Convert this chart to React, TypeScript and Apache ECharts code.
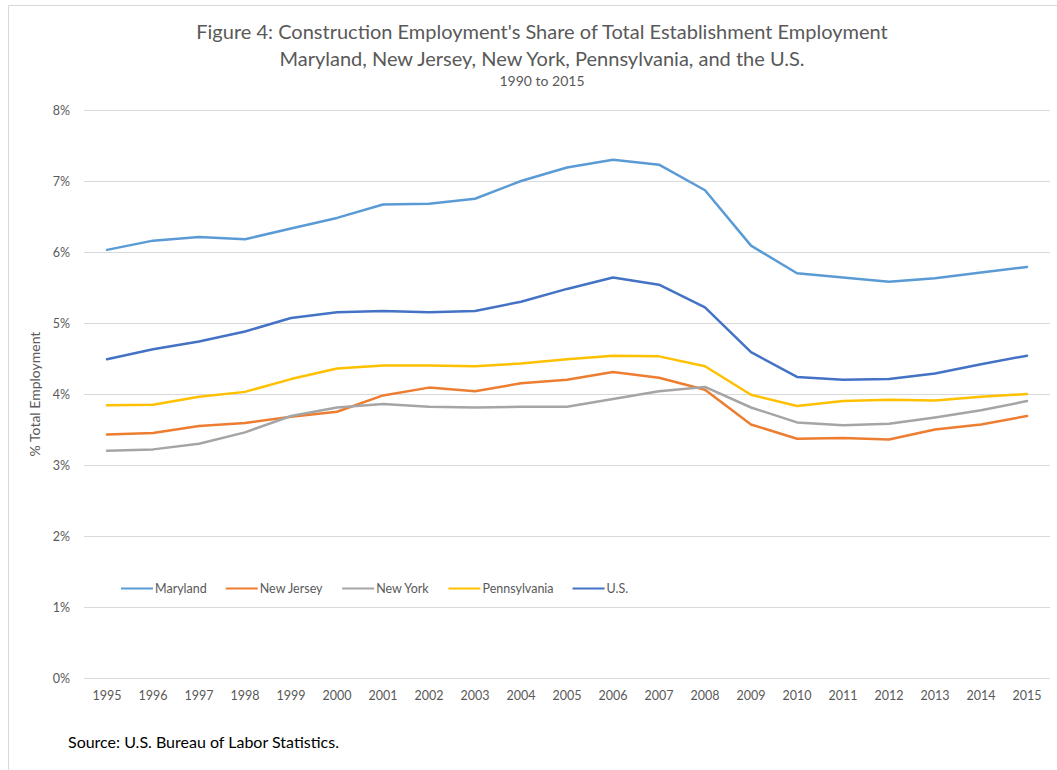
import React, { useEffect, useRef } from "react";
import * as echarts from "echarts";

const years = ["1995","1996","1997","1998","1999","2000","2001","2002","2003","2004","2005","2006","2007","2008","2009","2010","2011","2012","2013","2014","2015"];
const maryland = [6.03,6.16,6.21,6.18,6.33,6.48,6.67,6.68,6.75,7.0,7.19,7.30,7.23,6.87,6.09,5.70,5.64,5.58,5.63,5.71,5.79];
const newJersey = [3.43,3.45,3.55,3.59,3.68,3.75,3.98,4.09,4.04,4.15,4.20,4.31,4.23,4.06,3.57,3.37,3.38,3.36,3.50,3.57,3.69];
const newYork = [3.20,3.22,3.30,3.46,3.69,3.81,3.86,3.82,3.81,3.82,3.82,3.93,4.04,4.10,3.81,3.60,3.56,3.58,3.67,3.77,3.90];
const pennsylvania = [3.84,3.85,3.96,4.03,4.21,4.36,4.40,4.40,4.39,4.43,4.49,4.54,4.53,4.39,3.99,3.83,3.90,3.92,3.91,3.96,4.00];
const us = [4.49,4.63,4.74,4.88,5.07,5.15,5.17,5.15,5.17,5.30,5.48,5.64,5.54,5.22,4.59,4.24,4.20,4.21,4.29,4.42,4.54];

const seriesNames = ["Maryland", "New Jersey", "New York", "Pennsylvania", "U.S."];
const seriesData = [maryland, newJersey, newYork, pennsylvania, us];
const seriesColors = ["#5B9BD5", "#ED7D31", "#A5A5A5", "#FFC000", "#4472C4"];

const FONT = "Lato, 'Liberation Sans', sans-serif";

export default function App() {
  const ref = useRef<HTMLDivElement>(null);
  useEffect(() => {
    if (!ref.current) return;
    const chart = echarts.init(ref.current, undefined, { renderer: "svg" });
    chart.setOption({
      animation: false,
      backgroundColor: "#ffffff",
      textStyle: { fontFamily: FONT },
      title: [
        {
          text: "Figure 4: Construction Employment's Share of Total Establishment Employment\nMaryland, New Jersey, New York, Pennsylvania, and the U.S.",
          left: 537,
          top: 12,
          textAlign: "center",
          textStyle: { fontFamily: FONT, fontSize: 20, fontWeight: "normal", color: "#595959", lineHeight: 27 },
        },
        {
          text: "1990 to 2015",
          left: 537,
          top: 68,
          textAlign: "center",
          textStyle: { fontFamily: FONT, fontSize: 14, fontWeight: "normal", color: "#595959" },
        },
        {
          text: "Source: U.S. Bureau of Labor Statistics.",
          left: 63,
          top: 728,
          textStyle: { fontFamily: FONT, fontSize: 16, fontWeight: "normal", color: "#000000" },
        },
      ],
      graphic: [
        {
          type: "rect",
          shape: { x: 8.5, y: 5.5, width: 1200, height: 900 },
          style: { fill: "none", stroke: "#d9d9d9", lineWidth: 1 },
          silent: true,
        },
      ],
      legend: {
        left: 116,
        top: 577,
        itemWidth: 32,
        itemHeight: 12,
        itemGap: 19,
        icon: "path://M0,5 L32,5 L32,7 L0,7 Z",
        textStyle: { fontFamily: FONT, fontSize: 12.5, color: "#595959", padding: [0, 0, 0, -3] },
        data: seriesNames,
      },
      grid: { left: 84, right: 7, top: 110, bottom: 92, containLabel: false },
      xAxis: {
        type: "category",
        data: years,
        boundaryGap: true,
        axisLine: { show: false },
        axisTick: { show: false },
        axisLabel: { fontFamily: FONT, fontSize: 12.5, color: "#595959", margin: 11, interval: 0 },
      },
      yAxis: {
        type: "value",
        min: 0,
        max: 8,
        interval: 1,
        name: "% Total Employment",
        nameLocation: "middle",
        nameGap: 42,
        nameTextStyle: { fontFamily: FONT, fontSize: 14, color: "#595959" },
        axisLine: { show: false },
        axisTick: { show: false },
        axisLabel: { fontFamily: FONT, fontSize: 12.5, color: "#595959", margin: 14, formatter: "{value}%" },
        splitLine: { lineStyle: { color: "#d9d9d9", width: 1 } },
      },
      series: seriesNames.map((name, i) => ({
        name,
        type: "line",
        data: seriesData[i],
        symbol: "none",
        showSymbol: false,
        color: seriesColors[i],
        lineStyle: { width: 2.5, color: seriesColors[i], cap: "round", join: "round" },
        z: 2,
      })),
    });
    return () => chart.dispose();
  }, []);
  return (
    <div
      ref={ref}
      style={{ position: "fixed", left: 0, top: 0, width: 1057, height: 770 }}
    />
  );
}
